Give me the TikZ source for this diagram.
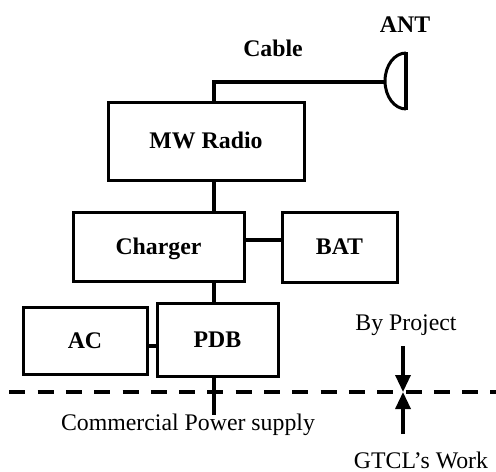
\documentclass[tikz,border=0pt]{standalone}
\usepackage{fontspec}
\setmainfont{Liberation Serif}
\usetikzlibrary{arrows.meta}
\begin{document}
\begin{tikzpicture}[x=0.5pt,y=-0.5pt,
  box/.style={draw,line width=1.5pt,inner sep=0pt,text height=7.9pt,text depth=0pt,font=\fontsize{11.9}{14}\selectfont\bfseries},
  wire/.style={line width=1.7pt},
  lbl/.style={inner sep=0pt,font=\fontsize{11.9}{14}\selectfont},
  blbl/.style={inner sep=0pt,font=\fontsize{11.9}{14}\selectfont\bfseries},
  arr/.style={line width=1.65pt,-{Triangle[length=8.5pt,width=7.5pt]}}]
\useasboundingbox (0,0) rectangle (496,471);
% boxes
\node[box,minimum width=98pt,minimum height=39pt] (radio) at (206,141) {MW Radio};
\node[box,minimum width=85.5pt,minimum height=34.5pt] (charger) at (158.5,246.5) {Charger};
\node[box,minimum width=57.5pt,minimum height=35pt] (bat) at (339.5,247) {BAT};
\node[box,minimum width=62pt,minimum height=33.5pt] (ac) at (85,340.5) {AC};
\node[box,minimum width=60.5pt,minimum height=36.5pt] (pdb) at (217.5,339.5) {PDB};
% labels
\node[blbl] (antlbl) at (405,25) {ANT};
\node[blbl] (cablelbl) at (273,48) {Cable};
\node[lbl] (cps) at (188,425) {Commercial Power supply};
\node[lbl] (byproj) at (406,325) {By Project};
\node[lbl] (gtcl) at (421,460) {GTCL’s Work};
% coordinates
\coordinate (spine) at (214,0);
\coordinate (feed) at (385,82);
\coordinate (cpsend) at (214,415);
\coordinate (dl) at (9.3,392);
\coordinate (dr) at (496,392);
\coordinate (atop) at (403,346);
\coordinate (abot) at (403,434);
\coordinate (amid) at (403,392);
% antenna
\draw[line width=1.5pt] (406,53) arc[start angle=270,end angle=90,x radius=21,y radius=28];
\draw[line width=1.8pt] (406,52) -- (406,110);
% connectors
\draw[wire] (radio.north -| spine) |- (feed);
\draw[wire] (radio.south -| spine) -- (charger.north -| spine);
\draw[wire] (charger.south -| spine) -- (pdb.north -| spine);
\draw[wire] (charger.east |- 0,240) -- (bat.west |- 0,240);
\draw[wire] (ac.east |- 0,346) -- (pdb.west |- 0,346);
\draw[wire] (pdb.south -| spine) -- (cpsend);
% boundary
\draw[line width=2pt,dash pattern=on 8pt off 6.15pt] (dl) -- (dr);
\draw[arr] (atop) -- (amid);
\draw[arr] (abot) -- (amid);
\end{tikzpicture}
\end{document}
